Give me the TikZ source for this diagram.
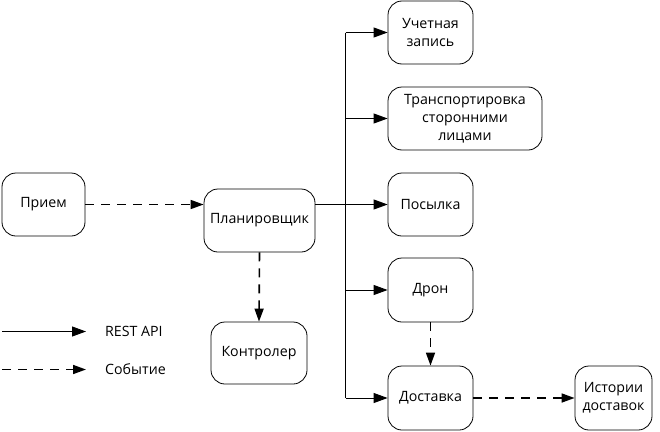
\documentclass[tikz,border=0pt]{standalone}
\usepackage{fontspec}
\setmainfont{Open Sans}
\usetikzlibrary{arrows.meta,calc}
\begin{document}
\begin{tikzpicture}[x=1pt,y=-1pt,
  box/.style={draw, line width=0.8pt, rounded corners=14pt, align=center, inner sep=0pt,
    font=\fontsize{14.2}{18}\selectfont},
  arr/.style={line width=1pt, -{Triangle[length=14pt,width=10pt]}},
  ev/.style={line width=1.6pt, dash pattern=on 9pt off 7pt, -{Triangle[length=13pt,width=9pt]}},
  lbl/.style={anchor=west, inner sep=0pt, font=\fontsize{14.2}{18}\selectfont}]
\useasboundingbox (0,0) rectangle (660,431);
\node[box, minimum width=83pt, minimum height=63pt] (priem) at (43.5,204.5) {Прием};
\node[box, minimum width=111pt, minimum height=63pt] (plan) at (259.5,220.5) {Планировщик};
\node[box, minimum width=96pt, minimum height=62pt] (kontr) at (259,353) {Контролер};
\node[box, minimum width=85pt, minimum height=63pt] (uchet) at (430.5,32.5) {Учетная\\запись};
\node[box, minimum width=154pt, minimum height=63pt] (trans) at (465,118.5) {Транспортировка\\сторонними\\лицами};
\node[box, minimum width=85pt, minimum height=63pt] (pos) at (430.5,204.5) {Посылка};
\node[box, minimum width=85pt, minimum height=64pt] (dron) at (430.5,290) {Дрон};
\node[box, minimum width=85pt, minimum height=64pt] (dost) at (430.5,398) {Доставка};
\node[box, minimum width=77pt, minimum height=64pt] (ist) at (613.5,398) {Истории\\доставок};
\coordinate (t) at (345.5,204.5);
% connectors
\draw[ev] (priem.east) -- (priem.east -| plan.west);
\draw[ev] (plan.south) -- (kontr.north);
\draw[arr] (plan.east |- pos.west) -- (pos.west);
\draw[line width=1pt] (t |- uchet.west) -- (t |- dost.west);
\draw[arr] (t |- uchet.west) -- (uchet.west);
\draw[arr] (t |- trans.west) -- (trans.west);
\draw[arr] (t |- dron.west) -- (dron.west);
\draw[arr] (t |- dost.west) -- (dost.west);
\draw[ev] (dron.south) -- (dost.north);
\draw[ev] (dost.east) -- (ist.west);
% legend
\coordinate (l1a) at (2,331.5);
\coordinate (l1b) at (86,331.5);
\coordinate (l2a) at (2,369.5);
\coordinate (l2b) at (86,369.5);
\draw[arr] (l1a) -- (l1b);
\draw[ev] (l2a) -- (l2b);
\node[lbl] (rest) at (105,331.5) {REST API};
\node[lbl] (sob) at (105,369.5) {Событие};
\end{tikzpicture}
\end{document}
